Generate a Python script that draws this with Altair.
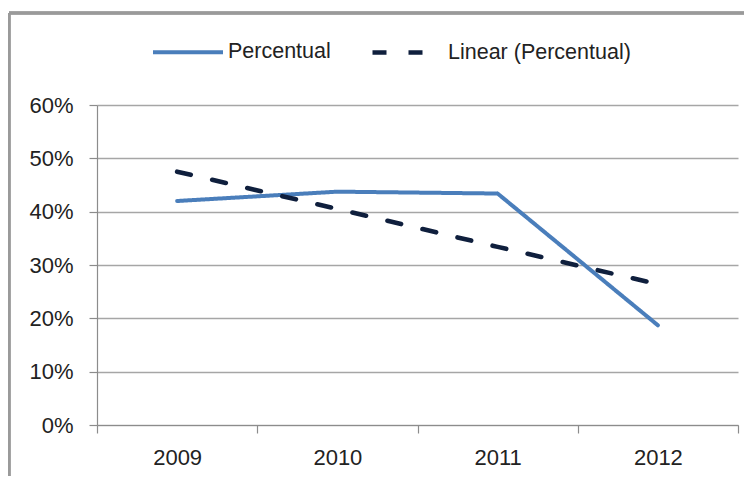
import altair as alt
import pandas as pd

years = ["2009", "2010", "2011", "2012"]
percentual = [0.420, 0.4375, 0.434, 0.187]
linear_trend = [0.475, 0.405, 0.334, 0.264]
series_names = ["Percentual", "Linear (Percentual)"]
series_colors = ["#4A7EBB", "#0F1F3D"]
y_ticks = [0, 0.1, 0.2, 0.3, 0.4, 0.5, 0.6]

rows = []
for name, vals in zip(series_names, [percentual, linear_trend]):
    for yr, v in zip(years, vals):
        rows.append({"year": yr, "value": v, "series": name})
df = pd.DataFrame(rows)

FONT = "Liberation Sans"
TEXT = "#222222"

legend_kw = dict(title=None, orient="none", direction="horizontal",
                 legendX=54, legendY=-90, symbolType="stroke",
                 symbolSize=4900, symbolStrokeWidth=4.3, labelOffset=3,
                 columnPadding=32, labelFontSize=21.5, labelFont=FONT,
                 labelColor=TEXT, padding=0, labelLimit=0)

lines = alt.Chart(df).mark_line(strokeCap="round", strokeJoin="round").encode(
    x=alt.X("year:O", bandPosition=0.5,
            scale=alt.Scale(type="band", domain=years, paddingInner=0, paddingOuter=0),
            axis=alt.Axis(title=None, labelAngle=0, tickBand="extent", tickSize=8,
                          labelPadding=14, labelFontSize=22, labelFont=FONT, labelColor=TEXT,
                          domainColor="#8c8c8c", tickColor="#8c8c8c", domainWidth=1.2,
                          tickWidth=1.2, grid=False)),
    y=alt.Y("value:Q",
            scale=alt.Scale(domain=[0, 0.6], nice=False),
            axis=alt.Axis(title=None, values=y_ticks, format=".0%", tickSize=8,
                          labelPadding=16, labelFontSize=22, labelFont=FONT, labelColor=TEXT,
                          domainColor="#8c8c8c", tickColor="#8c8c8c", domainWidth=1.2,
                          tickWidth=1.2, grid=True, gridColor="#a6a6a6", gridWidth=1.3)),
    color=alt.Color("series:N",
                    scale=alt.Scale(domain=series_names, range=series_colors),
                    sort=series_names,
                    legend=alt.Legend(**legend_kw)),
    strokeDash=alt.StrokeDash("series:N",
                              scale=alt.Scale(domain=series_names, range=[[1, 0], [14, 22]]),
                              sort=series_names,
                              legend=alt.Legend(**legend_kw)),
    strokeWidth=alt.StrokeWidth("series:N",
                                scale=alt.Scale(domain=series_names, range=[4, 4.6]),
                                legend=None),
)

frame_top = alt.Chart(df).mark_rule(color="#9a9a9a", strokeWidth=2.5).encode(
    x=alt.value(-88), x2=alt.value(680), y=alt.value(-92)
)
frame_left = alt.Chart(df).mark_rule(color="#9a9a9a", strokeWidth=2.5).encode(
    x=alt.value(-88), y=alt.value(-92), y2=alt.value(400)
)

chart = alt.layer(lines, frame_top, frame_left).properties(
    width=641, height=320,
    autosize=alt.AutoSizeParams(type="none"),
    padding={"left": 89, "top": 97, "right": 6, "bottom": 51},
    background="white",
).configure_view(stroke=None)

chart.save("out.html", embed_options={"renderer": "svg", "actions": False})
